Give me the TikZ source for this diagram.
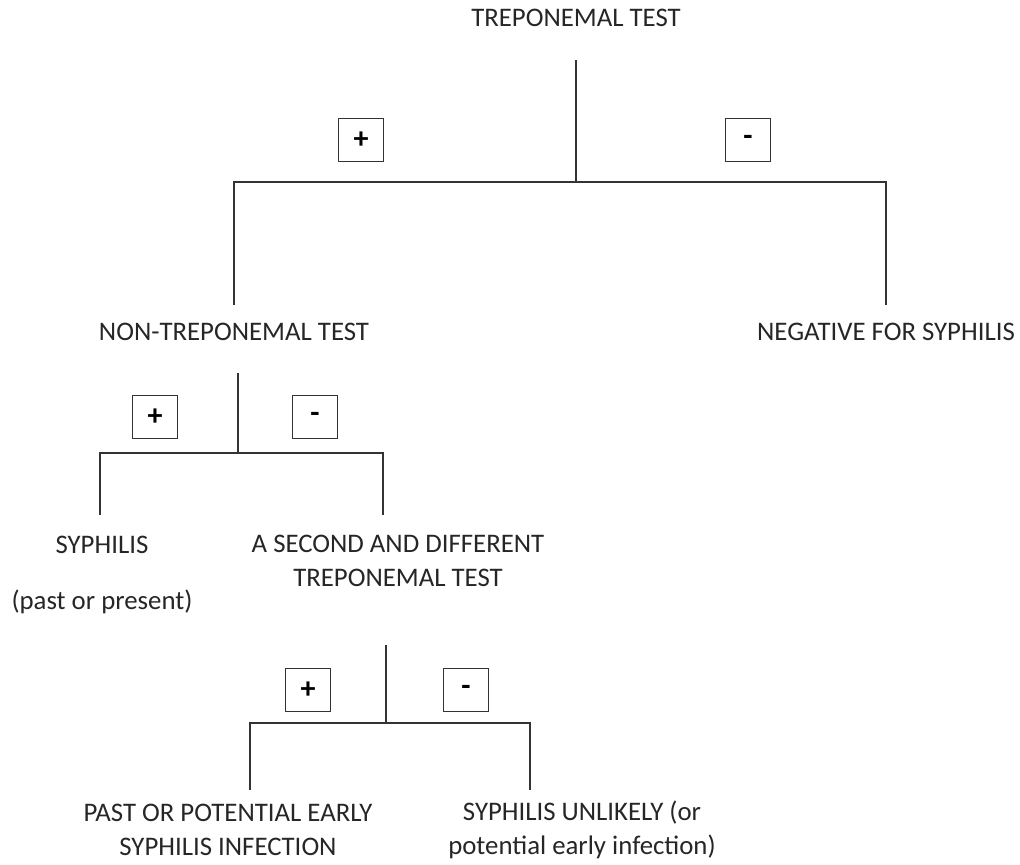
\documentclass[tikz,border=0pt]{standalone}
\usepackage{fontspec}
\setmainfont{Carlito}

\begin{document}
\begin{tikzpicture}[x=0.5pt,y=-0.5pt,every text node part/.style={align=center},
result/.style={font=\fontsize{13.4}{17}\selectfont,text=black!85,inner sep=0pt},
signbox/.style={draw=black!80,line width=0.8pt,minimum width=22.5pt,minimum height=21.5pt,inner sep=0pt,font=\fontsize{15}{15}\selectfont\bfseries},
branch/.style={line width=1pt,draw=black!80}]
\useasboundingbox (0,0) rectangle (1020,864);
% first test
\node[result] (trep) at (576,18) {TREPONEMAL TEST};
\coordinate (trepstem) at (576,60);
\coordinate (trepfork) at (576,182);
\node[signbox] (trepplus) at (361,140) {+};
\node[signbox] (trepminus) at (748,140) {-};
\node[result] (nontrep) at (234,332) {NON-TREPONEMAL TEST};
\node[result] (negative) at (886,332) {NEGATIVE FOR SYPHILIS};
\coordinate (nontreptop) at (234,305);
\coordinate (negtop) at (886,305);
\draw[branch] (trepstem) -- (trepfork);
\draw[branch] (nontreptop) -- (nontreptop |- trepfork) -- (negtop |- trepfork) -- (negtop);
% second test
\coordinate (nontrepstem) at (238,373);
\coordinate (nontrepfork) at (238,453);
\node[signbox] (nontrepplus) at (155,417) {+};
\node[signbox] (nontrepminus) at (315,417) {-};
\node[result] (syph) at (102,545) {SYPHILIS};
\node[result] (pastpresent) at (102,602) {(past or present)};
\node[result] (second) at (398,561) {A SECOND AND DIFFERENT\\TREPONEMAL TEST};
\coordinate (syphtop) at (100,515);
\coordinate (secondtop) at (383,515);
\draw[branch] (nontrepstem) -- (nontrepfork);
\draw[branch] (syphtop) -- (syphtop |- nontrepfork) -- (secondtop |- nontrepfork) -- (secondtop);
% third test
\coordinate (secondstem) at (386,645);
\coordinate (secondfork) at (386,723);
\node[signbox] (secondplus) at (308,690) {+};
\node[signbox] (secondminus) at (466,690) {-};
\node[result] (pastearly) at (228,830) {PAST OR POTENTIAL EARLY\\SYPHILIS INFECTION};
\node[result] (unlikely) at (582,830) {SYPHILIS UNLIKELY (or\\potential early infection)};
\coordinate (pastearlytop) at (250,790);
\coordinate (unlikelytop) at (530,790);
\draw[branch] (secondstem) -- (secondfork);
\draw[branch] (pastearlytop) -- (pastearlytop |- secondfork) -- (unlikelytop |- secondfork) -- (unlikelytop);
\end{tikzpicture}
\end{document}
